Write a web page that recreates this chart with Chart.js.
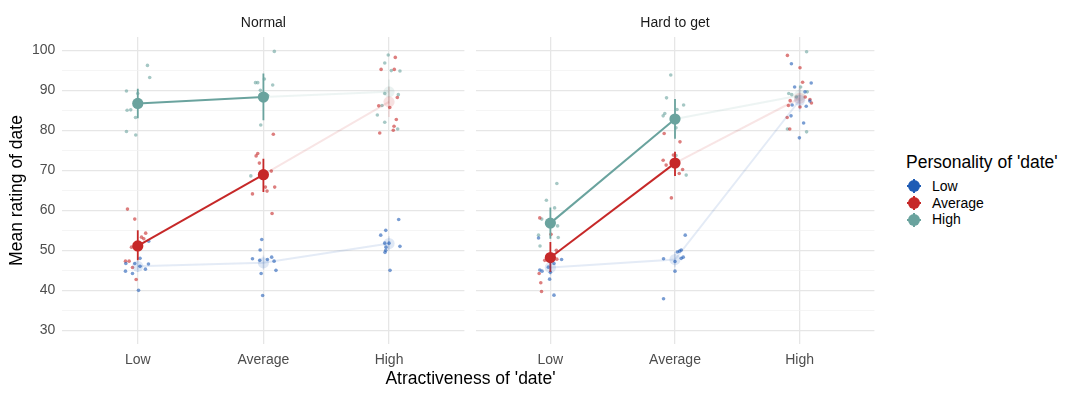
<!DOCTYPE html>
<html lang="en">
<head>
<meta charset="UTF-8">
<title>Mean rating of date</title>
<script src="https://cdn.jsdelivr.net/npm/chart.js"></script>
<style>
  body { margin: 0; background: #fff; font-family: "Liberation Sans", Arial, sans-serif; }
  #wrap { position: relative; width: 1080px; height: 396px; overflow: hidden; }
  #left { position: absolute; left: 0; top: 0; }
  #right { position: absolute; left: 470px; top: 0; }
  #xtitle { position: absolute; left: 62px; width: 817px; top: 368px; text-align: center;
            font-size: 17.5px; line-height: 20px; color: #000; }
  #legend { position: absolute; left: 906px; top: 151.7px; color: #000; }
  #legend .ltitle { font-size: 17.5px; line-height: 20px; white-space: nowrap; }
  #legend .items { margin-top: 6.5px; }
  #legend .item { position: relative; height: 16.6px; line-height: 16.6px; font-size: 14px; padding-left: 26px; }
  #legend .key { position: absolute; left: 1px; top: 50%; width: 14px; height: 14px; margin-top: -7px; }
  #legend .key span { position: absolute; }
  #legend .dot { left: 1px; top: 1px; width: 12px; height: 12px; border-radius: 50%; }
  #legend .v { left: 6px; top: 0; width: 2px; height: 14px; }
  #legend .h { left: 0; top: 6px; width: 14px; height: 2px; }
</style>
</head>
<body>
<div id="wrap">
  <canvas id="left" width="470" height="396"></canvas>
  <canvas id="right" width="410" height="396"></canvas>
  <div id="xtitle">Atractiveness of 'date'</div>
  <div id="legend"></div>
</div>

<script>
const categories = ['Low', 'Average', 'High'];
const personalities = ['Low', 'Average', 'High'];
const panels = ['Normal', 'Hard to get'];
const colours = ['#1f5cb5', '#c62828', '#6aa39e'];
const yTicks = [30, 35, 40, 45, 50, 55, 60, 65, 70, 75, 80, 85, 90, 95, 100];

// raw ratings: [attractiveness index, jitter, rating]
const normalLow = [
  [0, 0.087, 52.3], [0, 0.018, 48.0], [0, -0.024, 46.7], [0, -0.095, 46.7], [0, 0.085, 46.6],
  [0, 0.018, 46.0], [0, -0.098, 44.8], [0, -0.042, 44.2], [0, 0.061, 45.3], [0, 0.006, 40.0],
  [1, -0.013, 52.7], [1, -0.026, 50.1], [1, -0.087, 47.9], [1, -0.029, 47.5], [1, 0.032, 47.7],
  [1, 0.066, 48.3], [1, 0.085, 47.3], [1, -0.018, 44.2], [1, 0.1, 45.0], [1, -0.006, 38.7],
  [2, 0.077, 57.7], [2, -0.026, 55.0], [2, -0.066, 53.8], [2, -0.034, 51.8], [2, 0.0, 51.8],
  [2, -0.024, 50.8], [2, -0.026, 50.0], [2, -0.032, 49.5], [2, 0.087, 51.0], [2, 0.008, 45.0]
];
const normalAverage = [
  [0, -0.082, 60.3], [0, -0.024, 57.8], [0, 0.063, 54.3], [0, 0.03, 53.3], [0, 0.048, 52.9],
  [0, -0.05, 50.8], [0, -0.098, 47.3], [0, -0.069, 47.3], [0, -0.042, 45.7], [0, -0.013, 42.7],
  [1, 0.079, 79.0], [1, -0.058, 73.6], [1, -0.045, 74.2], [1, -0.032, 71.8], [1, 0.063, 69.8],
  [1, 0.016, 65.8], [1, 0.09, 65.8], [1, 0.029, 64.8], [1, -0.087, 64.1], [1, 0.069, 59.2],
  [2, 0.05, 98.2], [2, -0.063, 95.2], [2, 0.042, 95.2], [2, 0.066, 88.2], [2, -0.082, 86.1],
  [2, 0.006, 85.7], [2, 0.058, 82.7], [2, 0.04, 81.0], [2, 0.034, 80.0], [2, -0.074, 79.3]
];
const normalHigh = [
  [0, -0.09, 89.8], [0, 0.0, 89.2], [0, 0.077, 96.2], [0, 0.095, 93.2], [0, -0.085, 85.0],
  [0, -0.056, 85.1], [0, -0.018, 83.2], [0, -0.09, 79.7], [0, -0.016, 78.8],
  [1, 0.087, 99.7], [1, -0.063, 91.9], [1, -0.045, 91.9], [1, 0.008, 92.8], [1, 0.074, 91.3],
  [1, -0.024, 90.0], [1, 0.034, 88.7], [1, -0.021, 81.3], [1, -0.1, 68.6],
  [2, -0.006, 98.8], [2, -0.034, 96.8], [2, 0.018, 94.9], [2, 0.087, 94.8], [2, -0.034, 89.2],
  [2, 0.074, 88.9], [2, -0.056, 86.2], [2, -0.093, 83.8], [2, -0.034, 82.0], [2, 0.069, 80.3]
];
const hardLow = [
  [0, -0.095, 53.1], [0, 0.09, 47.7], [0, 0.029, 46.7], [0, -0.016, 45.8], [0, -0.085, 45.1],
  [0, -0.067, 44.8], [0, 0.0, 44.5], [0, -0.006, 42.8], [0, 0.029, 38.8],
  [1, 0.082, 53.8], [1, 0.019, 49.6], [1, 0.037, 49.8], [1, 0.05, 50.1], [1, -0.092, 47.9],
  [1, 0.05, 48.0], [1, 0.066, 48.3], [1, 0.0, 47.2], [1, 0.0, 44.8], [1, -0.092, 37.9],
  [2, -0.066, 96.6], [2, -0.04, 90.8], [2, 0.093, 91.8], [2, 0.043, 89.6], [2, 0.082, 87.3],
  [2, -0.06, 86.3], [2, 0.053, 86.0], [2, -0.069, 83.6], [2, 0.032, 81.8], [2, -0.002, 78.1]
];
const hardAverage = [
  [0, -0.085, 58.1], [0, 0.005, 54.0], [0, 0.048, 50.0], [0, -0.045, 47.5], [0, 0.052, 47.8],
  [0, -0.09, 44.2], [0, -0.077, 41.9], [0, -0.071, 39.7],
  [1, -0.087, 79.2], [1, 0.04, 77.1], [1, -0.013, 73.8], [1, -0.095, 72.5], [1, -0.071, 71.3],
  [1, 0.061, 70.2], [1, 0.034, 69.2], [1, -0.029, 63.1],
  [2, -0.098, 98.7], [2, 0.003, 95.6], [2, 0.024, 92.0], [2, 0.083, 87.7], [2, 0.095, 86.8],
  [2, 0.045, 88.3], [2, -0.076, 87.4], [2, -0.09, 86.2], [2, 0.003, 85.8], [2, -0.1, 83.2],
  [2, -0.079, 80.3]
];
const hardHigh = [
  [0, 0.052, 66.7], [0, -0.032, 62.5], [0, 0.034, 60.6], [0, -0.069, 57.8], [0, 0.058, 56.1],
  [0, -0.095, 53.8], [0, 0.063, 53.2], [0, -0.083, 51.1],
  [1, -0.034, 93.8], [1, -0.068, 88.1], [1, 0.069, 86.3], [1, 0.016, 85.2], [1, -0.082, 84.2],
  [1, -0.095, 83.6], [1, 0.008, 80.6], [1, 0.09, 68.8], [1, 0.008, 73.7],
  [2, 0.056, 99.6], [2, 0.008, 90.8], [2, 0.061, 89.6], [2, -0.087, 89.2], [2, -0.063, 88.9],
  [2, -0.026, 88.3], [2, -0.098, 80.3], [2, 0.056, 79.6]
];

// means and interval ends, rows = personality, cols = attractiveness
const normalMean = [[46.0, 46.9, 51.7], [51.1, 68.9, 87.1], [86.7, 88.3, 89.6]];
const normalLo   = [[44.6, 45.2, 49.9], [47.5, 64.6, 83.3], [83.0, 82.5, 86.6]];
const normalHi   = [[47.5, 48.7, 53.5], [55.0, 72.9, 90.9], [90.4, 94.2, 92.7]];
const hardMean   = [[45.7, 47.7, 87.5], [48.2, 71.8, 88.0], [56.8, 82.8, 88.7]];
const hardLo     = [[43.8, 45.8, 84.6], [44.6, 68.6, 85.6], [52.9, 77.9, 86.0]];
const hardHi     = [[47.6, 49.6, 90.4], [52.1, 74.6, 90.6], [60.7, 87.8, 91.3]];
// which means are highlighted (1) or faded (0)
const normalFocus = [[0, 0, 0], [1, 1, 0], [1, 1, 0]];
const hardFocus   = [[0, 0, 0], [1, 1, 0], [1, 1, 0]];

function rgba(hex, a) {
  const n = parseInt(hex.slice(1), 16);
  return 'rgba(' + (n >> 16) + ',' + ((n >> 8) & 255) + ',' + (n & 255) + ',' + a + ')';
}

function buildDatasets(raws, means, los, his, focus) {
  const sets = [];
  personalities.forEach((p, i) => {
    const c = colours[i];
    const f = focus[i];
    sets.push({
      type: 'scatter',
      label: p + ' ratings',
      data: raws[i].map(r => ({x: r[0] + r[1], y: r[2]})),
      backgroundColor: rgba(c, 0.6),
      borderWidth: 0,
      pointRadius: 1.8,
      order: 10
    });
    const bars = [];
    means[i].forEach((m, k) => {
      bars.push({x: k, y: los[i][k]}, {x: k, y: his[i][k]}, {x: k, y: null});
    });
    sets.push({
      type: 'line',
      label: p + ' interval',
      data: bars,
      spanGaps: false,
      pointRadius: 0,
      borderWidth: 1.8,
      borderColor: c,
      segment: {
        borderColor: ctx => f[Math.floor(ctx.p0DataIndex / 3)] ? c : rgba(c, 0.12)
      },
      order: 4
    });
    sets.push({
      type: 'line',
      label: p,
      data: means[i].map((m, k) => ({x: k, y: m})),
      borderColor: c,
      borderWidth: 2,
      segment: {
        borderColor: ctx => (f[ctx.p0DataIndex] && f[ctx.p1DataIndex]) ? c : rgba(c, 0.12)
      },
      pointRadius: 5.6,
      pointBorderWidth: 0,
      pointBackgroundColor: f.map(v => v ? c : rgba(c, 0.14)),
      order: 2
    });
  });
  return sets;
}

const major = '#e6e6e6';
const minor = '#f0f0f0';

function makeScales(panel, showY) {
  return {
    x: {
      type: 'linear',
      min: -0.6,
      max: 2.6,
      afterBuildTicks: s => { s.ticks = categories.map((c, i) => ({value: i})); },
      afterFit: s => { s.height = 52; },
      ticks: {
        callback: v => categories[v],
        color: '#4d4d4d',
        font: {size: 14},
        padding: 7.5,
        maxRotation: 0,
        autoSkip: false
      },
      grid: {color: major, lineWidth: 1.3, drawTicks: false},
      border: {display: false}
    },
    // facet strip: a bare top axis that only carries the panel name
    strip: {
      type: 'linear',
      position: 'top',
      min: -0.6,
      max: 2.6,
      afterFit: s => { s.height = 37; },
      ticks: {display: false},
      grid: {display: false, drawTicks: false},
      border: {display: false},
      title: {
        display: true,
        text: panel,
        color: '#1a1a1a',
        font: {size: 14},
        padding: {top: 14.9, bottom: 0}
      }
    },
    y: {
      type: 'linear',
      min: 26.6,
      max: 103.3,
      afterBuildTicks: s => { s.ticks = yTicks.map(v => ({value: v})); },
      afterFit: s => { s.width = showY ? 62.4 : 0; },
      ticks: {
        display: showY,
        callback: v => v % 10 === 0 ? v : '',
        color: '#4d4d4d',
        font: {size: 14},
        padding: 7
      },
      grid: {
        color: ctx => ctx.tick && ctx.tick.value % 10 === 0 ? major : minor,
        lineWidth: ctx => ctx.tick && ctx.tick.value % 10 === 0 ? 1.3 : 0.7,
        drawTicks: false
      },
      border: {display: false},
      title: {
        display: showY,
        text: 'Mean rating of date',
        color: '#000',
        font: {size: 17.5},
        padding: {top: 7, bottom: 0}
      }
    }
  };
}

function makeChart(id, panel, datasets, showY, padding) {
  return new Chart(document.getElementById(id), {
    type: 'scatter',
    data: {datasets: datasets},
    options: {
      responsive: false,
      animation: false,
      events: [],
      layout: {padding: padding},
      scales: makeScales(panel, showY),
      plugins: {
        legend: {display: false},
        tooltip: {enabled: false}
      }
    }
  });
}

Chart.defaults.font.family = '"Liberation Sans", Arial, sans-serif';

makeChart('left', panels[0],
  buildDatasets([normalLow, normalAverage, normalHigh], normalMean, normalLo, normalHi, normalFocus),
  true, {left: 0, right: 4.4, top: 0, bottom: 0});
makeChart('right', panels[1],
  buildDatasets([hardLow, hardAverage, hardHigh], hardMean, hardLo, hardHi, hardFocus),
  false, {left: 4.4, right: 1.4, top: 0, bottom: 0});

// legend
const legend = document.getElementById('legend');
let html = '<div class="ltitle">Personality of \'date\'</div><div class="items">';
personalities.forEach((p, i) => {
  const c = colours[i];
  html += '<div class="item"><span class="key">' +
    '<span class="v" style="background:' + c + '"></span>' +
    '<span class="h" style="background:' + c + '"></span>' +
    '<span class="dot" style="background:' + c + '"></span></span>' + p + '</div>';
});
legend.innerHTML = html + '</div>';
</script>
</body>
</html>
